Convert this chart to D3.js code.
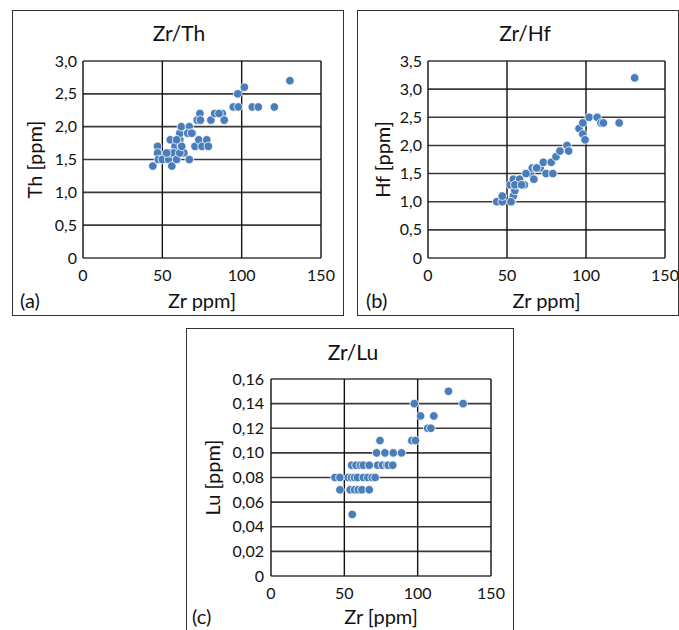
<!DOCTYPE html>
<html>
<head>
<meta charset="utf-8">
<script src="https://cdn.jsdelivr.net/npm/d3@7"></script>
<style>
  body { margin: 0; background: #fff; }
  text { font-family: Lato, "Open Sans", sans-serif; fill: #111; }
</style>
</head>
<body>
<svg width="679" height="630"></svg>
<script>
const width = 679;
const height = 630;

// panel (a) Zr vs Th
const zrA = [44, 47, 47, 47.5, 50, 54, 55, 55, 56, 58, 57, 59, 61, 62, 61, 62, 63.6, 67, 67, 66, 69, 70.6, 72, 73.7, 74,
  73, 75, 78, 79, 80.6, 83, 87.8, 89, 94.7, 97.9, 97.5, 101.7, 106.7, 110.5, 120.6, 130.4,
  52.7, 61, 62.2, 68.5, 85.7, 59];
const thA = [1.4, 1.7, 1.6, 1.5, 1.5, 1.5, 1.6, 1.8, 1.4, 1.7, 1.6, 1.5, 1.8, 1.7, 1.9, 2.0, 1.6, 2.0, 1.5, 1.9, 1.9, 1.7, 2.1, 2.2, 2.1,
  1.8, 1.7, 1.8, 1.7, 2.1, 2.2, 2.2, 2.1, 2.3, 2.3, 2.5, 2.6, 2.3, 2.3, 2.3, 2.7,
  1.6, 1.6, 1.7, 1.9, 2.2, 1.8];

// panel (b) Zr vs Hf
const zrB = [43.5, 47, 47, 53, 54, 52, 55, 54, 56, 58, 61, 62.5, 65, 67, 66, 68.5, 71, 73, 74.7, 78,
  79, 81, 83.5, 88, 89, 95.6, 98, 98, 99.4, 102, 107, 109.5, 111, 121, 130.8,
  52.5, 55, 59.3, 62, 68.8];
const hfB = [1.0, 1.0, 1.1, 1.0, 1.1, 1.3, 1.2, 1.4, 1.3, 1.4, 1.3, 1.5, 1.5, 1.4, 1.6, 1.6, 1.6, 1.7, 1.5, 1.7,
  1.5, 1.8, 1.9, 2.0, 1.9, 2.3, 2.4, 2.2, 2.1, 2.5, 2.5, 2.4, 2.4, 2.4, 3.2,
  1.0, 1.3, 1.3, 1.5, 1.6];

// panel (c) Zr vs Lu
const zrC = [55.4,
  47, 54, 57, 59.5, 62, 67,
  43.6, 47, 52.7, 55, 57, 59, 63, 66, 69, 71,
  55, 58, 61, 63, 67, 72.7, 76, 79, 80, 83,
  72, 77.7, 83.4, 89,
  74.3, 96, 98.5,
  106.8, 109,
  102, 111,
  97.7, 131,
  121];
const luC = [0.05,
  0.07, 0.07, 0.07, 0.07, 0.07, 0.07,
  0.08, 0.08, 0.08, 0.08, 0.08, 0.08, 0.08, 0.08, 0.08, 0.08,
  0.09, 0.09, 0.09, 0.09, 0.09, 0.09, 0.09, 0.09, 0.09, 0.09,
  0.10, 0.10, 0.10, 0.10,
  0.11, 0.11, 0.11,
  0.12, 0.12,
  0.13, 0.13,
  0.14, 0.14,
  0.15];

const xTicks = [0, 50, 100, 150];
const yTicksA = [0, 0.5, 1, 1.5, 2, 2.5, 3];
const yTicksB = [0, 0.5, 1, 1.5, 2, 2.5, 3, 3.5];
const yTicksC = [0, 0.02, 0.04, 0.06, 0.08, 0.1, 0.12, 0.14, 0.16];

const svg = d3.select("svg").attr("viewBox", [0, 0, width, height]);

const comma = (d, digits) => d === 0 ? "0" : d.toFixed(digits).replace(".", ",");

function drawPanel(p) {
  // outer frame
  svg.append("rect")
    .attr("x", p.frame[0] + 0.5).attr("y", p.frame[1] + 0.5)
    .attr("width", p.frame[2] - p.frame[0]).attr("height", p.frame[3] - p.frame[1])
    .attr("fill", "none").attr("stroke", "#333").attr("stroke-width", 1);

  const x = d3.scaleLinear().domain([0, 150]).range([p.plot[0], p.plot[2]]);
  const y = d3.scaleLinear().domain([0, p.yMax]).range([p.plot[3], p.plot[1]]);

  const g = svg.append("g");

  // grid
  g.selectAll("line.h").data(p.yTicks).enter().append("line")
    .attr("x1", p.plot[0]).attr("x2", p.plot[2])
    .attr("y1", d => y(d)).attr("y2", d => y(d))
    .attr("stroke", "#3a3a3a").attr("stroke-width", 1.6);
  g.selectAll("line.v").data(xTicks).enter().append("line")
    .attr("y1", p.plot[1]).attr("y2", p.plot[3])
    .attr("x1", d => x(d)).attr("x2", d => x(d))
    .attr("stroke", "#111").attr("stroke-width", 1.4);

  // tick labels
  g.selectAll("text.yt").data(p.yTicks).enter().append("text")
    .attr("x", p.plot[0] - p.yLabelGap).attr("y", d => y(d))
    .attr("dy", "0.35em").attr("text-anchor", "end")
    .style("font-size", "16px")
    .text(d => comma(d, p.digits));
  g.selectAll("text.xt").data(xTicks).enter().append("text")
    .attr("x", d => x(d)).attr("y", p.plot[3] + 17)
    .attr("dy", "0.35em").attr("text-anchor", "middle")
    .style("font-size", "16px")
    .text(d => d);

  // points
  g.selectAll("circle").data(p.xs.map((v, i) => [v, p.ys[i]])).enter().append("circle")
    .attr("cx", d => x(d[0])).attr("cy", d => y(d[1]))
    .attr("r", 4.3)
    .attr("fill", "#4a7ebb").attr("stroke", "#fff").attr("stroke-width", 0.8);

  // titles
  svg.append("text").attr("x", p.titleX).attr("y", p.titleY)
    .attr("text-anchor", "middle").attr("dy", "0.35em")
    .style("font-size", "21px").text(p.title);
  svg.append("text")
    .attr("transform", `translate(${p.yTitleX},${(p.plot[1] + p.plot[3]) / 2}) rotate(-90)`)
    .attr("text-anchor", "middle").attr("dy", "0.35em")
    .style("font-size", "20px").text(p.yTitle);
  svg.append("text").attr("x", (p.plot[0] + p.plot[2]) / 2).attr("y", p.xTitleY)
    .attr("text-anchor", "middle").attr("dy", "0.35em")
    .style("font-size", "20px").text(p.xTitle);
  svg.append("text").attr("x", p.tagX).attr("y", p.xTitleY)
    .attr("dy", "0.35em")
    .style("font-size", "20px").text(p.tag);
}

drawPanel({
  frame: [12, 10, 343, 315], plot: [83, 61, 321, 258], yMax: 3, yTicks: yTicksA, digits: 1,
  xs: zrA, ys: thA, yLabelGap: 6,
  title: "Zr/Th", titleX: 179, titleY: 34,
  yTitle: "Th [ppm]", yTitleX: 35,
  xTitle: "Zr ppm]", xTitleY: 301,
  tag: "(a)", tagX: 20
});

drawPanel({
  frame: [357, 10, 678, 315], plot: [428, 61, 665, 258], yMax: 3.5, yTicks: yTicksB, digits: 1,
  xs: zrB, ys: hfB, yLabelGap: 6,
  title: "Zr/Hf", titleX: 525, titleY: 34,
  yTitle: "Hf [ppm]", yTitleX: 383,
  xTitle: "Zr ppm]", xTitleY: 301,
  tag: "(b)", tagX: 366
});

drawPanel({
  frame: [186, 328, 513, 640], plot: [271, 379, 491, 576], yMax: 0.16, yTicks: yTicksC, digits: 2,
  xs: zrC, ys: luC, yLabelGap: 7,
  title: "Zr/Lu", titleX: 353, titleY: 353,
  yTitle: "Lu [ppm]", yTitleX: 213,
  xTitle: "Zr [ppm]", xTitleY: 617,
  tag: "(c)", tagX: 192
});
</script>
</body>
</html>
